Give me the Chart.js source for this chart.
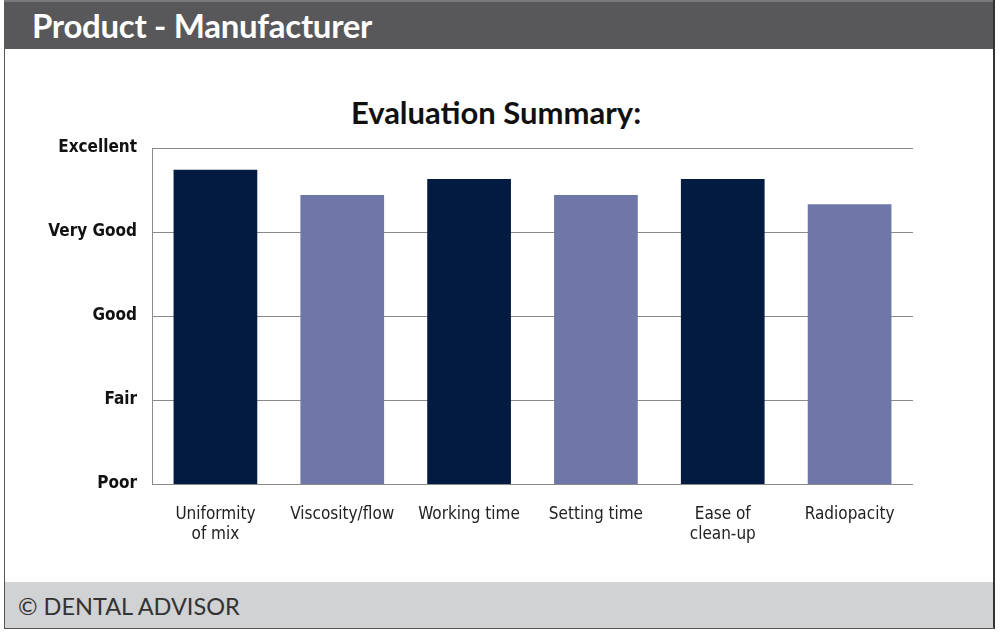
<!DOCTYPE html>
<html>
<head>
<meta charset="utf-8">
<script src="https://cdn.jsdelivr.net/npm/chart.js@4"></script>
<style>
  html, body { margin: 0; padding: 0; background: #fff; }
  #page { position: relative; width: 1000px; height: 635px; overflow: hidden; }
  #frame { position: absolute; left: 4px; top: 0; width: 988px; height: 627px;
           border-left: 1px solid #555; border-right: 2px solid #333; border-bottom: 2px solid #555; }
  #header { position: absolute; left: 4px; top: 0; width: 989px; height: 49px;
            background: #58585a; border-top: 2px solid #7a7a7a; box-sizing: border-box; }
  #header span { position: absolute; left: 28px; top: 3px; color: #fff; font: bold 33px "Lato", "DejaVu Sans", sans-serif; letter-spacing: -0.3px; }
  #footer { position: absolute; left: 5px; top: 582px; width: 988px; height: 46px; background: #d1d2d4; }
  #footer span { position: absolute; left: 13px; top: 10px; color: #333; font: 23.5px "Lato", "DejaVu Sans", sans-serif; }
  #chartTitle { position: absolute; left: 296px; top: 93px; width: 400px; text-align: center;
                line-height: 37px; color: #111; font: bold 31px "Lato", "DejaVu Sans", sans-serif; }
  #chartBox { position: absolute; left: 0; top: 0; width: 1000px; height: 635px; }
</style>
</head>
<body>
<div id="page">
  <div id="frame"></div>
  <div id="header"><span>Product - Manufacturer</span></div>
  <div id="footer"><span>© DENTAL ADVISOR</span></div>
  <div id="chartTitle">Evaluation Summary:</div>
  <div id="chartBox"><canvas id="evalChart" width="1000" height="635"></canvas></div>
</div>
<script>
// Chart data
const categories = [['Uniformity', 'of mix'], 'Viscosity/flow', 'Working time', 'Setting time', ['Ease of', 'clean-up'], 'Radiopacity'];
const scores = [4.74, 4.44, 4.63, 4.44, 4.63, 4.33];
const ratingLabels = ['Poor', 'Fair', 'Good', 'Very Good', 'Excellent'];
const barColors = ['#031b40', '#6f77a8', '#031b40', '#6f77a8', '#031b40', '#6f77a8'];

const ctx = document.getElementById('evalChart').getContext('2d');
const evalChart = new Chart(ctx, {
    type: 'bar',
    data: {
        labels: categories,
        datasets: [{
            data: scores,
            backgroundColor: barColors,
            borderWidth: 0,
            categoryPercentage: 0.66,
            barPercentage: 1.0
        }]
    },
    options: {
        responsive: false,
        animation: false,
        layout: {
            padding: { left: 0, right: 87, top: 148, bottom: 90 }
        },
        scales: {
            y: {
                min: 1,
                max: 5,
                ticks: {
                    stepSize: 1,
                    padding: 15,
                    color: '#111',
                    font: { family: '"DejaVu Sans Condensed", sans-serif', size: 17, weight: 'bold' },
                    callback: (value) => ratingLabels[value - 1]
                },
                grid: {
                    color: '#8a8a8a',
                    lineWidth: 1,
                    drawTicks: false
                },
                border: { display: true, color: '#8a8a8a', width: 1 },
                afterFit: (scale) => { scale.width = 152; }
            },
            x: {
                ticks: {
                    padding: 21,
                    color: '#222',
                    maxRotation: 0,
                    autoSkip: false,
                    font: { family: '"DejaVu Sans Condensed", sans-serif', size: 17, lineHeight: 1.15 }
                },
                grid: { display: false, drawTicks: false },
                border: { display: false },
                afterFit: (scale) => { scale.height = 61; }
            }
        },
        plugins: {
            legend: { display: false },
            tooltip: { enabled: false },
            title: { display: false }
        }
    }
});
</script>
</body>
</html>
